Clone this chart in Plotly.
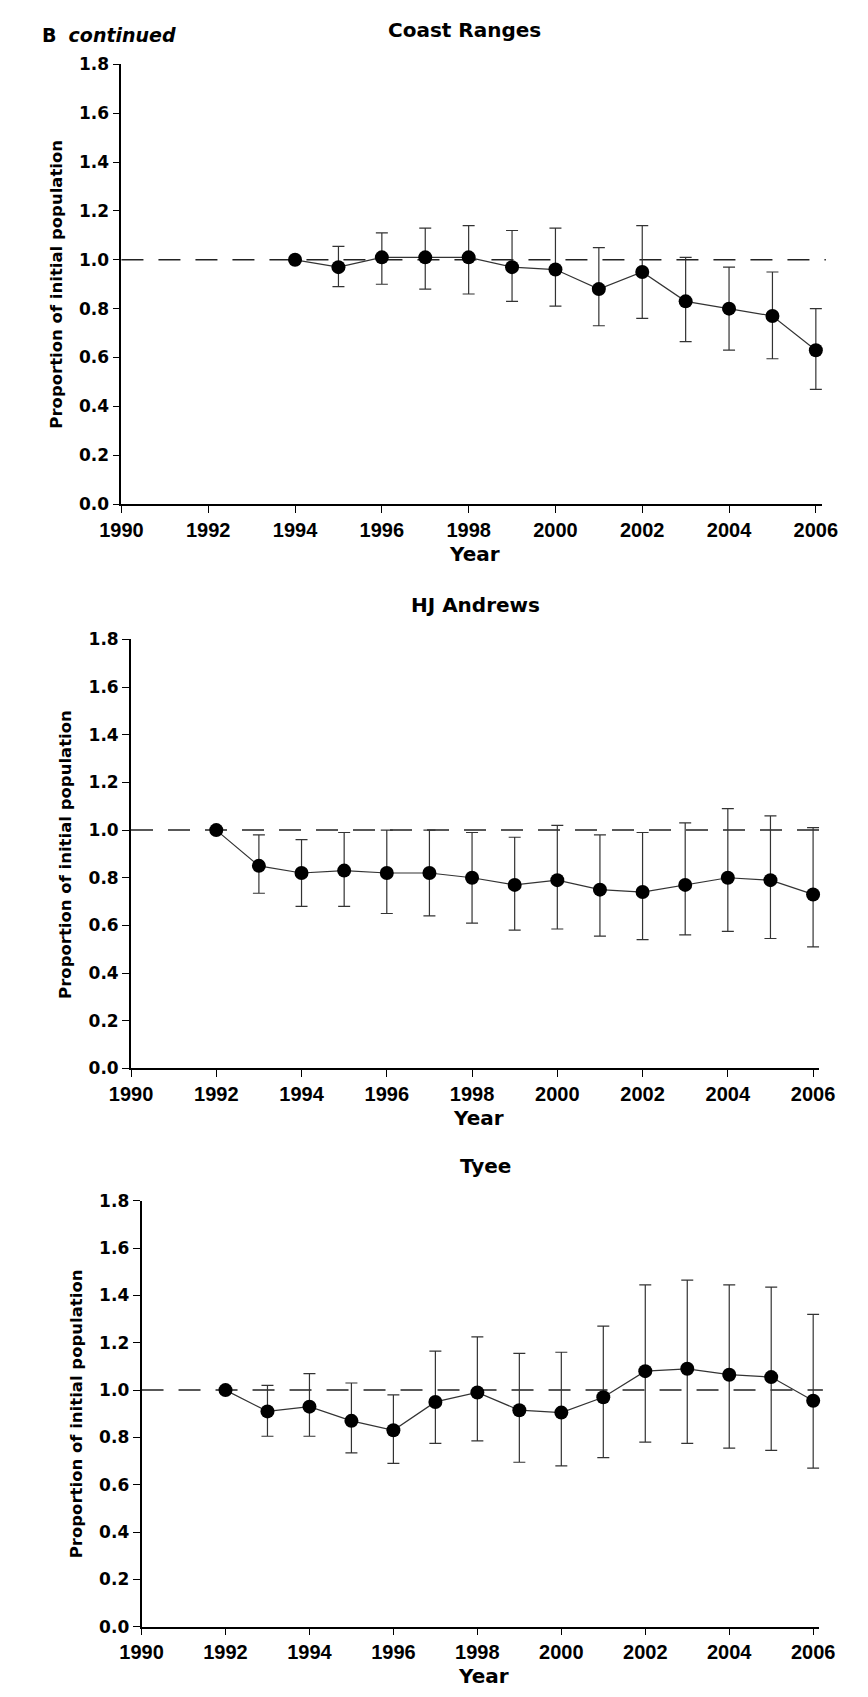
import plotly.graph_objects as go

# ---------------- data ----------------
REF_LEVEL = 1.0
X_TICKS = [1990, 1992, 1994, 1996, 1998, 2000, 2002, 2004, 2006]
Y_TICKS = [0.0, 0.2, 0.4, 0.6, 0.8, 1.0, 1.2, 1.4, 1.6, 1.8]

coast_years = [1994, 1995, 1996, 1997, 1998, 1999, 2000, 2001, 2002, 2003, 2004, 2005, 2006]
coast_vals = [1.00, 0.97, 1.01, 1.01, 1.01, 0.97, 0.96, 0.88, 0.95, 0.83, 0.80, 0.77, 0.63]
coast_upper = [1.00, 1.055, 1.11, 1.13, 1.14, 1.12, 1.13, 1.05, 1.14, 1.01, 0.97, 0.95, 0.80]
coast_lower = [1.00, 0.89, 0.90, 0.88, 0.86, 0.83, 0.81, 0.73, 0.76, 0.665, 0.63, 0.595, 0.47]

hj_years = [1992, 1993, 1994, 1995, 1996, 1997, 1998, 1999, 2000, 2001, 2002, 2003, 2004, 2005, 2006]
hj_vals = [1.00, 0.85, 0.82, 0.83, 0.82, 0.82, 0.80, 0.77, 0.79, 0.75, 0.74, 0.77, 0.80, 0.79, 0.73]
hj_upper = [1.00, 0.98, 0.96, 0.99, 1.00, 1.00, 0.99, 0.97, 1.02, 0.98, 0.99, 1.03, 1.09, 1.06, 1.01]
hj_lower = [1.00, 0.735, 0.68, 0.68, 0.65, 0.64, 0.61, 0.58, 0.585, 0.555, 0.54, 0.56, 0.575, 0.545, 0.51]

tyee_years = [1992, 1993, 1994, 1995, 1996, 1997, 1998, 1999, 2000, 2001, 2002, 2003, 2004, 2005, 2006]
tyee_vals = [1.00, 0.91, 0.93, 0.87, 0.83, 0.95, 0.99, 0.915, 0.905, 0.97, 1.08, 1.09, 1.065, 1.055, 0.955]
tyee_upper = [1.00, 1.02, 1.07, 1.03, 0.98, 1.165, 1.225, 1.155, 1.16, 1.27, 1.445, 1.465, 1.445, 1.435, 1.32]
tyee_lower = [1.00, 0.805, 0.805, 0.735, 0.69, 0.775, 0.785, 0.695, 0.68, 0.715, 0.78, 0.775, 0.755, 0.745, 0.67]

panels = [
    ("Coast Ranges", coast_years, coast_vals, coast_upper, coast_lower),
    ("HJ Andrews", hj_years, hj_vals, hj_upper, hj_lower),
    ("Tyee", tyee_years, tyee_vals, tyee_upper, tyee_lower),
]

# ---------------- layout geometry (pixels) ----------------
W, H = 868, 1697
# (left, right, top, bottom) of each plot area in pixels
boxes = [
    (104, 837, 55, 500),
    (114, 834, 637, 1071),
    (125, 834, 1205, 1636),
]
title_x = [463, 474, 485]

FONT = "DejaVu Sans, Liberation Sans, Arial, sans-serif"
XFONT = "Liberation Sans, Arial, sans-serif"

fig = go.Figure()
layout = dict(
    width=W, height=H,
    margin=dict(l=0, r=0, t=0, b=0),
    paper_bgcolor="white", plot_bgcolor="white",
    showlegend=False,
    font=dict(family=FONT, color="black"),
)
annotations = []
shapes = []

for i, (name, yrs, vals, up, lo) in enumerate(panels):
    k = "" if i == 0 else str(i + 1)
    L, R, T, B = boxes[i]
    xd = [L / W, R / W]
    yd = [1 - B / H, 1 - T / H]
    err_plus = [u - v for u, v in zip(up, vals)]
    err_minus = [v - l for v, l in zip(vals, lo)]
    fig.add_trace(go.Scatter(
        x=yrs, y=vals, xaxis="x" + k, yaxis="y" + k,
        mode="lines+markers",
        line=dict(color="#333333", width=1.2),
        marker=dict(color="black", size=14),
        error_y=dict(type="data", symmetric=False, array=err_plus, arrayminus=err_minus,
                     color="#333333", thickness=1.2, width=6),
        cliponaxis=False,
    ))
    layout["xaxis" + k] = dict(
        domain=xd, anchor="y" + k, range=[1990, 2006.15],
        tickmode="array", tickvals=X_TICKS, ticktext=[str(t) for t in X_TICKS],
        ticks="outside", ticklen=7, tickwidth=1.2, tickcolor="black",
        showline=True, linecolor="black", linewidth=1.5,
        showgrid=False, zeroline=False,
        tickfont=dict(family=XFONT, size=20, color="black", weight="bold"),
    )
    layout["yaxis" + k] = dict(
        domain=yd, anchor="x" + k, range=[0, 1.8],
        tickmode="array", tickvals=Y_TICKS, ticktext=[f"{t:.1f}" for t in Y_TICKS],
        ticks="outside", ticklen=7, tickwidth=1.2, tickcolor="black",
        showline=True, linecolor="black", linewidth=1.8,
        showgrid=False, zeroline=False,
        tickfont=dict(family=FONT, size=17, color="black", weight="bold"),
    )
    # dashed reference line at initial population level
    shapes.append(dict(
        type="line", xref=f"x{k} domain", yref="y" + k,
        x0=0, x1=1.005, y0=REF_LEVEL, y1=REF_LEVEL,
        line=dict(color="#222222", width=1.5, dash="22px,15px"),
        layer="below",
    ))
    # title
    annotations.append(dict(
        text=f"<b>{name}</b>", x=title_x[i] / W, y=1 - (T - 35) / H,
        xref="paper", yref="paper", showarrow=False,
        xanchor="center", yanchor="middle",
        font=dict(family=FONT, size=20, color="black"),
    ))
    # x title
    annotations.append(dict(
        text="<b>Year</b>", x=((L + R) / 2 + 3) / W, y=1 - (B + 50) / H,
        xref="paper", yref="paper", showarrow=False,
        xanchor="center", yanchor="middle",
        font=dict(family=FONT, size=20, color="black"),
    ))
    # y title
    annotations.append(dict(
        text="<b>Proportion of initial population</b>", textangle=-90,
        x=(L - 68) / W, y=1 - (T + 0.5 * (B - T)) / H,
        xref="paper", yref="paper", showarrow=False,
        xanchor="center", yanchor="middle",
        font=dict(family=FONT, size=16.5, color="black"),
    ))

annotations.append(dict(
    text="<b>B</b>  <b><i>continued</i></b>", x=19 / W, y=1 - 25 / H,
    xref="paper", yref="paper", showarrow=False,
    xanchor="left", yanchor="middle",
    font=dict(family=FONT, size=19, color="black"),
))

layout["annotations"] = annotations
layout["shapes"] = shapes
fig.update_layout(**layout)
fig.write_html("out.html")
